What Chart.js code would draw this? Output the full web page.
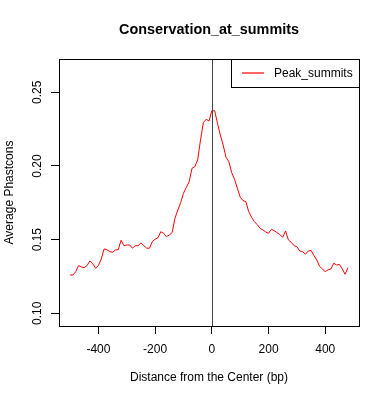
<!DOCTYPE html>
<html>
<head>
<meta charset="utf-8">
<script src="https://cdn.jsdelivr.net/npm/chart.js@4"></script>
<style>
  html, body { margin: 0; padding: 0; background: #fff; }
  #wrap { width: 390px; height: 400px; position: relative; }
</style>
</head>
<body>
<div id="wrap"><canvas id="myChart"></canvas></div>
<script>
// distance from the summit (bp)
const positions = [
  -500, -490, -480, -470, -460, -450, -440, -430, -420, -410,
  -400, -390, -380, -370, -360, -350, -340, -330, -320, -310,
  -300, -290, -280, -270, -260, -250, -240, -230, -220, -210,
  -200, -190, -180, -170, -160, -150, -140, -130, -120, -110,
  -100, -90, -80, -70, -60, -50, -40, -30, -20, -10,
  0, 10, 20, 30, 40, 50, 60, 70, 80, 90,
  100, 110, 120, 130, 140, 150, 160, 170, 180, 190,
  200, 210, 220, 230, 240, 250, 260, 270, 280, 290,
  300, 310, 320, 330, 340, 350, 360, 370, 380, 390,
  400, 410, 420, 430, 440, 450, 460, 470, 480
];

// average phastcons score at each position
const peakSummits = [
  0.126, 0.126, 0.1283, 0.1324, 0.1315, 0.131, 0.1324, 0.1356, 0.1337, 0.1306,
  0.1324, 0.1369, 0.1437, 0.1432, 0.1419, 0.1414, 0.143, 0.1432, 0.1496, 0.1459,
  0.1464, 0.1464, 0.1442, 0.1459, 0.1459, 0.1478, 0.1459, 0.1442, 0.1442, 0.1487,
  0.1503, 0.1513, 0.1554, 0.1543, 0.152, 0.1532, 0.1548, 0.1645, 0.1701, 0.1751,
  0.1815, 0.1855, 0.1893, 0.1984, 0.1995, 0.2041, 0.2176, 0.2294, 0.2317, 0.2305,
  0.2375, 0.2375, 0.229, 0.221, 0.2142, 0.2059, 0.2029, 0.1955, 0.191, 0.1849,
  0.1788, 0.1765, 0.1758, 0.169, 0.1652, 0.1622, 0.1602, 0.1577, 0.1566, 0.1552,
  0.1543, 0.157, 0.1561, 0.1548, 0.1534, 0.1516, 0.1559, 0.1498, 0.1482, 0.1459,
  0.1453, 0.1423, 0.1419, 0.1401, 0.1423, 0.1427, 0.1392, 0.1362, 0.1319, 0.1301,
  0.1283, 0.1295, 0.1301, 0.134, 0.1328, 0.1332, 0.1301, 0.1265, 0.131
];

const xTicks = [-400, -200, 0, 200, 400];
const xTickLabels = ['-400', '-200', '0', '200', '400'];
const yTicks = [0.10, 0.15, 0.20, 0.25];
const yTickLabels = ['0.10', '0.15', '0.20', '0.25'];

const LINE_COLOR = '#ff0000';
const FONT = '"Liberation Sans", Arial, Helvetica, sans-serif';
Chart.defaults.font.family = FONT;
Chart.defaults.font.size = 12;
Chart.defaults.color = '#000';

// R style box, zero line, main title and legend
const rDecor = {
  id: 'rDecor',
  afterDatasetsDraw(chart) {
    const { ctx, chartArea: a, scales: { x } } = chart;
    ctx.save();
    // vertical line at the center
    const x0 = Math.round(x.getPixelForValue(0)) + 0.5;
    ctx.strokeStyle = '#444';
    ctx.lineWidth = 1;
    ctx.beginPath();
    ctx.moveTo(x0, a.top);
    ctx.lineTo(x0, a.bottom);
    ctx.stroke();
    // box
    ctx.strokeStyle = '#000';
    ctx.strokeRect(a.left + 0.5, a.top + 0.5, a.right - a.left, a.bottom - a.top);
    // legend
    const lw = 128, lh = 28;
    const lx = a.right - lw, ly = a.top;
    ctx.fillStyle = '#fff';
    ctx.fillRect(lx + 0.5, ly + 0.5, lw, lh);
    ctx.strokeStyle = '#000';
    ctx.strokeRect(lx + 0.5, ly + 0.5, lw, lh);
    ctx.beginPath();
    ctx.strokeStyle = LINE_COLOR;
    ctx.lineWidth = 1.2;
    ctx.moveTo(lx + 11, ly + 14);
    ctx.lineTo(lx + 33, ly + 14);
    ctx.stroke();
    ctx.fillStyle = '#000';
    ctx.font = '12px ' + FONT;
    ctx.textBaseline = 'middle';
    ctx.textAlign = 'left';
    ctx.fillText(chart.data.datasets[0].label, lx + 43, ly + 14.5);
    // title
    ctx.font = 'bold 14.4px ' + FONT;
    ctx.textAlign = 'center';
    ctx.textBaseline = 'alphabetic';
    ctx.fillText('Conservation_at_summits', (a.left + a.right) / 2, 33.5);
    ctx.restore();
  }
};

const chartData = {
  datasets: [{
    label: 'Peak_summits',
    data: positions.map((p, i) => ({ x: p, y: peakSummits[i] })),
    borderColor: LINE_COLOR,
    borderWidth: 1,
    pointRadius: 0,
    tension: 0,
    fill: false
  }]
};

const config = {
  type: 'line',
  data: chartData,
  options: {
    responsive: true,
    maintainAspectRatio: false,
    animation: false,
    layout: { padding: { top: 59, right: 31, left: 0, bottom: 0 } },
    plugins: {
      legend: { display: false },
      tooltip: { enabled: false },
      title: { display: false }
    },
    scales: {
      x: {
        type: 'linear',
        min: -539,
        max: 519,
        afterBuildTicks: s => { s.ticks = xTicks.map(v => ({ value: v })); },
        afterFit: s => { s.height = 74; },
        ticks: {
          padding: 8,
          maxRotation: 0,
          callback: (v, i) => xTickLabels[i]
        },
        grid: { drawOnChartArea: false, tickLength: 8, color: '#000' },
        border: { color: '#000' },
        title: {
          display: true,
          text: 'Distance from the Center (bp)',
          padding: { top: 0, bottom: 15.5 }
        }
      },
      y: {
        min: 0.0914,
        max: 0.2726,
        afterBuildTicks: s => { s.ticks = yTicks.map(v => ({ value: v })); },
        afterFit: s => { s.width = 59; },
        ticks: {
          minRotation: 90,
          maxRotation: 90,
          crossAlign: 'center',
          padding: 1.5,
          callback: (v, i) => yTickLabels[i]
        },
        grid: { drawOnChartArea: false, tickLength: 8, color: '#000' },
        border: { color: '#000' },
        title: {
          display: true,
          text: 'Average Phastcons',
          padding: { top: 2, bottom: 0 }
        }
      }
    }
  },
  plugins: [rDecor]
};

const myChart = new Chart(document.getElementById('myChart'), config);
</script>
</body>
</html>
